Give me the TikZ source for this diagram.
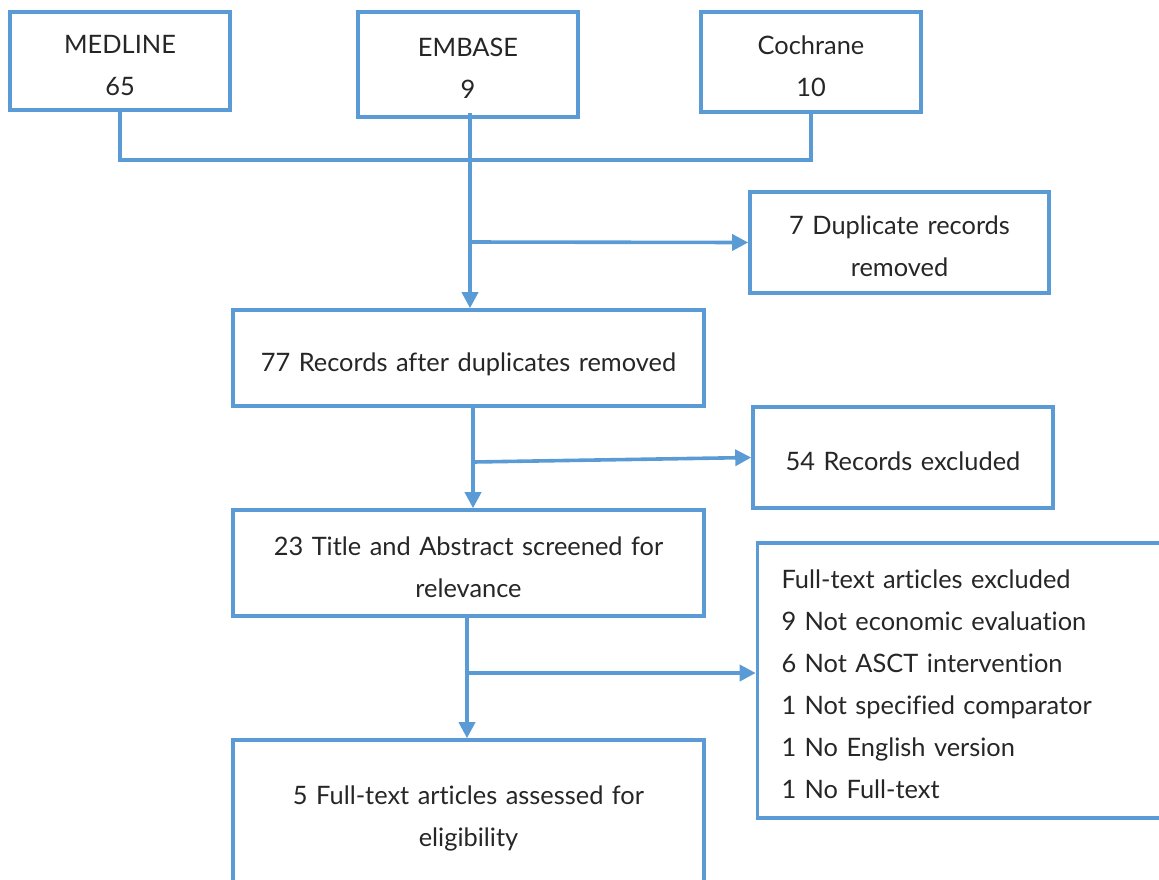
\documentclass[tikz,border=0pt]{standalone}
\usepackage{fontspec}
\setmainfont{Lato}[Ligatures=CommonOff]
\usetikzlibrary{arrows.meta}

\definecolor{flow}{HTML}{5B9BD5}
\definecolor{ink}{HTML}{262626}

\begin{document}
\begin{tikzpicture}[x=0.5pt,y=-0.5pt,text=ink,font=\fontsize{12.7pt}{21pt}\selectfont]
  \useasboundingbox (0,0) rectangle (1159,879);
  \clip (0,0) rectangle (1159,879);
  \tikzset{box/.style={draw=flow,line width=1.8pt,align=center,inner sep=0pt,
      execute at begin node={\rule{0pt}{19.3pt}},execute at end node={\strut}},
    link/.style={draw=flow,line width=1.8pt},
    arr/.style={link,-{Triangle[length=8pt,width=8pt]}}}

  % Databases searched.
  \node[box,text width=110pt,minimum height=49pt] (medline) at (120,61) {MEDLINE\\65};
  \node[box,text width=110pt,minimum height=52.5pt] (embase) at (468,64.5) {EMBASE\\9};
  \node[box,text width=110pt,minimum height=50pt] (cochrane) at (811,62) {Cochrane\\10};

  % Main line of the flow.
  \node[box,text width=235.5pt,minimum height=48pt] (records) at (468.5,358) {77 Records after duplicates removed};
  \node[box,text width=235.5pt,minimum height=53pt] (title) at (468.5,563) {23 Title and Abstract screened for\\relevance};
  \node[box,text width=235.5pt,minimum height=72pt] (assessed) at (468.5,812) {5 Full-text articles assessed for\\eligibility};

  % Records dropped at each step.
  \node[box,text width=149.5pt,minimum height=50.5pt] (dup) at (899.5,242.5) {7 Duplicate records\\removed};
  \node[box,text width=150pt,minimum height=50.5pt] (excl) at (903,457.5) {54 Records excluded};
  \node[box,align=left,text width=184.5pt,inner xsep=12pt,minimum height=137.5pt] (fulltext) at (966,680.5) {Full-text articles excluded\\9 Not economic evaluation\\6 Not ASCT intervention\\1 Not specified comparator\\1 No English version\\1 No Full-text};

  % Connectors.
  \coordinate (merge) at (470,160);
  \coordinate (j1) at (468,242);
  \coordinate (j2) at (473,462);
  \coordinate (j3) at (467,673);
  \draw[link] (medline.south) |- (merge) -| (cochrane.south);
  \draw[arr] ([yshift=3pt]embase.south -| merge) -- (records.north -| merge);
  \draw[arr] (j1) -- (dup.west);
  \draw[arr] (records.south -| j2) -- (title.north -| j2);
  \draw[arr] (j2) -- (excl.west);
  \draw[arr] (title.south -| j3) -- (assessed.north -| j3);
  \draw[arr] (j3) -- (j3 -| fulltext.west);
\end{tikzpicture}
\end{document}
